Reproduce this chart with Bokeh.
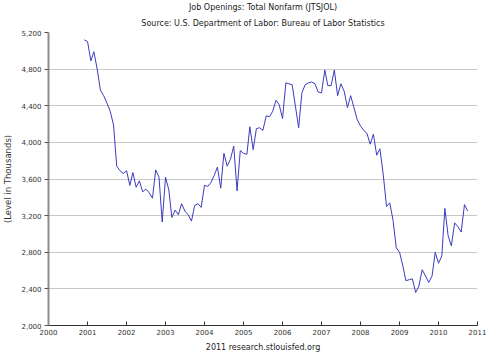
from datetime import datetime
import pandas as pd
from bokeh.plotting import figure
from bokeh.models import (Range1d, FixedTicker, NumeralTickFormatter, DatetimeTickFormatter,
                          Title, ColumnDataSource)
from bokeh.embed import file_html
from bokeh.resources import INLINE

# Monthly job openings (thousands), Dec 2000 .. Oct 2010
first_month = "2000-12-01"
openings = [
    5120,
    5100, 4890, 4990, 4800, 4570, 4510, 4430, 4340, 4190, 3740, 3690, 3660,  # 2001
    3690, 3530, 3670, 3510, 3580, 3460, 3490, 3450, 3390, 3700, 3620, 3130,  # 2002
    3620, 3480, 3180, 3260, 3210, 3330, 3250, 3210, 3140, 3310, 3330, 3290,  # 2003
    3530, 3520, 3560, 3640, 3730, 3500, 3880, 3740, 3820, 3960, 3470, 3910,  # 2004
    3880, 3870, 4170, 3920, 4150, 4160, 4130, 4290, 4280, 4340, 4460, 4410,  # 2005
    4260, 4650, 4640, 4630, 4400, 4160, 4540, 4630, 4650, 4660, 4640, 4550,  # 2006
    4540, 4790, 4620, 4620, 4790, 4510, 4640, 4560, 4380, 4510, 4380, 4250,  # 2007
    4180, 4130, 4100, 3980, 4090, 3860, 3930, 3650, 3300, 3340, 3150, 2850,  # 2008
    2800, 2650, 2490, 2500, 2510, 2360, 2430, 2610, 2540, 2470, 2540, 2800,  # 2009
    2680, 2760, 3280, 2980, 2870, 3120, 3080, 3020, 3320, 3250,              # 2010
]
year_ticks = list(range(2000, 2012))
y_ticks = list(range(2000, 5201, 400))

dates = pd.date_range(first_month, periods=len(openings), freq="MS")
src = ColumnDataSource(dict(date=dates, value=openings))

FONT = "DejaVu Sans"

p = figure(width=500, height=354, x_axis_type="datetime", output_backend="svg",
           toolbar_location=None,
           x_range=Range1d(datetime(2000, 1, 1), datetime(2011, 1, 1)),
           y_range=Range1d(2000, 5200),
           min_border_left=45, min_border_right=23, min_border_top=9, min_border_bottom=6)
p.outline_line_color = None
p.background_fill_color = "white"
p.border_fill_color = "white"

p.line("date", "value", source=src, line_color="#3c3cc0", line_width=1)

# titles
p.add_layout(Title(text="Source: U.S. Department of Labor: Bureau of Labor Statistics",
                   align="center", text_font=FONT, text_font_size="8px",
                   text_font_style="normal", text_color="#222222", standoff=10), "above")
p.add_layout(Title(text="Job Openings: Total Nonfarm (JTSJOL)",
                   align="center", text_font=FONT, text_font_size="8px",
                   text_font_style="normal", text_color="#222222", standoff=0), "above")
p.add_layout(Title(text="2011 research.stlouisfed.org", align="center",
                   text_font=FONT, text_font_size="8px", text_font_style="normal",
                   text_color="#222222", standoff=6), "below")

# x axis
xa = p.xaxis[0]
xa.ticker = FixedTicker(ticks=[datetime(y, 1, 1).timestamp() * 1000 for y in year_ticks])
xa.formatter = DatetimeTickFormatter(years="%Y", months="%Y", days="%Y", hours="%Y",
                                     minutes="%Y", seconds="%Y", milliseconds="%Y",
                                     microseconds="%Y")
xa.major_tick_in = 4
xa.major_tick_out = 0
xa.minor_tick_line_color = None
xa.axis_line_color = "#333333"
xa.major_tick_line_color = "#333333"
xa.major_label_text_font = FONT
xa.major_label_text_font_size = "7px"
xa.major_label_text_color = "#333333"
xa.major_label_standoff = 3

# y axis
ya = p.yaxis[0]
ya.ticker = FixedTicker(ticks=y_ticks)
ya.formatter = NumeralTickFormatter(format="0,0")
ya.major_tick_in = 0
ya.major_tick_out = 4
ya.minor_tick_line_color = None
ya.axis_line_color = "#8c8c8c"
ya.axis_line_width = 2
ya.major_tick_line_color = "#555555"
ya.major_label_text_font = FONT
ya.major_label_text_font_size = "7px"
ya.major_label_text_color = "#333333"
ya.major_label_standoff = 3
ya.axis_label = "(Level in Thousands)"
ya.axis_label_text_font = FONT
ya.axis_label_text_font_size = "8.5px"
ya.axis_label_text_font_style = "normal"
ya.axis_label_text_color = "#333333"
ya.axis_label_standoff = 5

p.xgrid.grid_line_color = None
p.ygrid.grid_line_color = "#c8c8c8"
p.ygrid.grid_line_width = 1

open("out.html", "w").write(file_html(p, INLINE))
